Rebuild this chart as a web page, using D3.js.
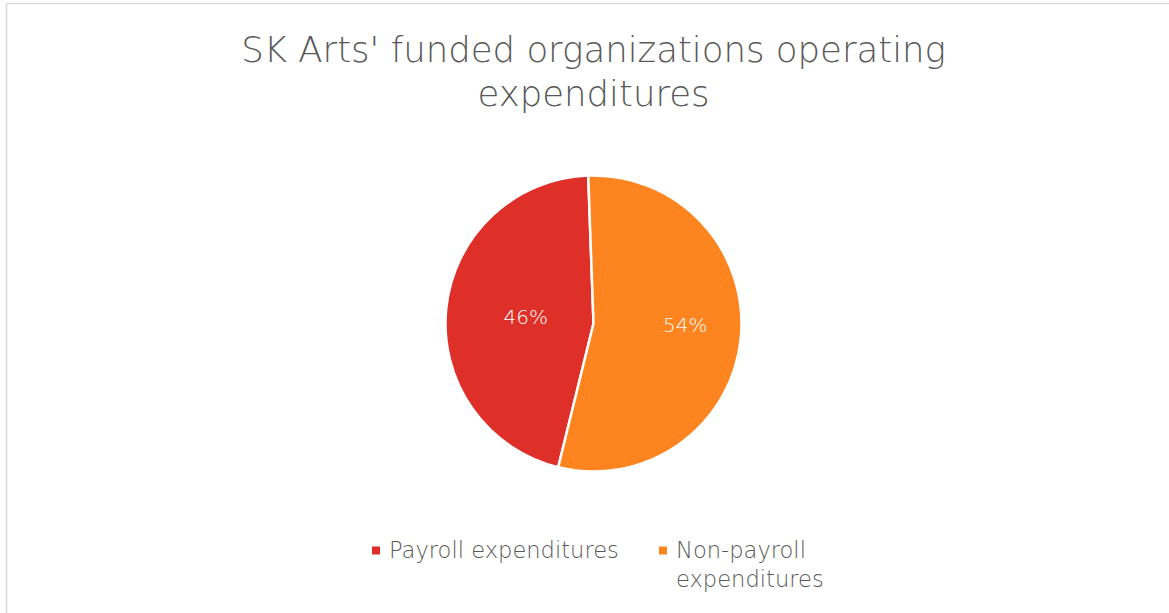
<!DOCTYPE html>
<html>
<head>
<meta charset="utf-8">
<script src="https://cdn.jsdelivr.net/npm/d3@7"></script>
<style>
  html, body { margin: 0; padding: 0; background: #ffffff; }
  svg { display: block; }
</style>
</head>
<body>
<svg id="chart" width="1169" height="613"></svg>
<script>
// ---- data ----
const titleLines = ["SK Arts' funded organizations operating", "expenditures"];
const categories = ["Payroll expenditures", "Non-payroll expenditures"];
const legendLines = [["Payroll expenditures"], ["Non-payroll", "expenditures"]];
const values = [45.6, 54.4];
const colors = ["#DF2F29", "#FD841E"];

// ---- layout ----
const W = 1169, H = 613;
const FONT = "'DejaVu Sans', sans-serif";
const WEIGHT = 200;
const cx = 593.5, cy = 323.5, R = 148;
const startDeg = 193.8;
const labelFactor = [0.46, 0.62];
const labelAngleShift = [0, -4.8];   // degrees

const svg = d3.select("#chart");

// chart border
svg.append("rect")
  .attr("x", 6.5).attr("y", 3.5)
  .attr("width", W + 20).attr("height", H + 20)
  .attr("fill", "#ffffff")
  .attr("stroke", "#d9d9d9").attr("stroke-width", 1.5);

function fitWidth(sel, target) {
  const w = sel.node().getComputedTextLength();
  const fs = parseFloat(sel.attr("font-size"));
  sel.attr("font-size", fs * target / w);
  return fs * target / w;
}

// title
const tl1 = svg.append("text").attr("x", cx).attr("y", 62)
  .attr("text-anchor", "middle").attr("font-family", FONT).attr("font-weight", WEIGHT)
  .attr("font-size", 34).attr("fill", "#595959").text(titleLines[0]);
const tfs = Math.min(fitWidth(tl1, 705), 36);
tl1.attr("font-size", tfs);
svg.append("text").attr("x", cx).attr("y", 106)
  .attr("text-anchor", "middle").attr("font-family", FONT).attr("font-weight", WEIGHT)
  .attr("font-size", tfs).attr("fill", "#595959").text(titleLines[1]);

// pie
const pie = d3.pie().sort(null).value(d => d)
  .startAngle(startDeg * Math.PI / 180)
  .endAngle(startDeg * Math.PI / 180 + 2 * Math.PI);
const arcs = pie(values);
const arc = d3.arc().innerRadius(0).outerRadius(R);

const g = svg.append("g").attr("transform", `translate(${cx},${cy})`);
g.selectAll("path.slice").data(arcs).enter().append("path")
  .attr("class", "slice")
  .attr("d", arc)
  .attr("fill", (d, i) => colors[i])
  .attr("stroke", "#ffffff").attr("stroke-width", 2.5)
  .attr("stroke-linejoin", "round");

g.selectAll("text.lbl").data(arcs).enter().append("text")
  .attr("class", "lbl")
  .each(function(d, i) {
    const k = labelFactor[i] * R;
    const a = (d.startAngle + d.endAngle) / 2 + labelAngleShift[i] * Math.PI / 180;
    d3.select(this).attr("x", k * Math.sin(a)).attr("y", -k * Math.cos(a));
  })
  .attr("text-anchor", "middle").attr("dominant-baseline", "central")
  .attr("font-family", FONT).attr("font-weight", WEIGHT).attr("font-size", 20)
  .attr("fill", "#ffffff")
  .text(d => Math.round(d.data / d3.sum(values) * 100) + "%");

// legend
const legX = [372, 659];
const probe = svg.append("text").attr("font-family", FONT).attr("font-weight", WEIGHT)
  .attr("font-size", 20).text(legendLines[0][0]);
const legendFont = fitWidth(probe, 230);
probe.remove();
categories.forEach((c, i) => {
  const lg = svg.append("g");
  lg.append("rect").attr("x", legX[i]).attr("y", 546.5)
    .attr("width", 8).attr("height", 8).attr("fill", colors[i]);
  legendLines[i].forEach((line, j) => {
    lg.append("text").attr("x", legX[i] + 17).attr("y", 558 + j * 28.7)
      .attr("font-family", FONT).attr("font-weight", WEIGHT).attr("font-size", legendFont)
      .attr("fill", "#595959").text(line);
  });
});
</script>
</body>
</html>
